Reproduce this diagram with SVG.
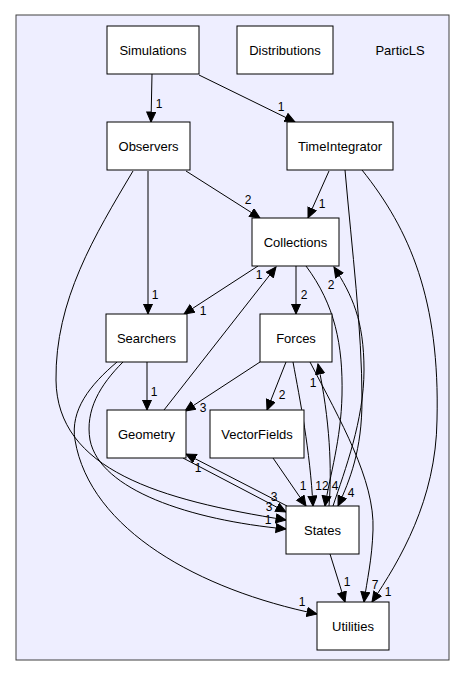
<svg xmlns="http://www.w3.org/2000/svg" width="465" height="677" viewBox="0 0 465 677">
<style>
.node rect{fill:#ffffff;stroke:#000000;stroke-width:1}
.node text{font-family:"Liberation Sans",Arial,sans-serif;font-size:13px;text-anchor:middle;fill:#000}
.edges path{fill:none;stroke:#000;stroke-width:1;marker-end:url(#ah)}
.lbl{font-family:"Liberation Sans",Arial,sans-serif;font-size:12px;text-anchor:middle;fill:#000}
</style>
<defs>
<marker id="ah" markerWidth="12" markerHeight="11" refX="10.5" refY="5" orient="auto" markerUnits="userSpaceOnUse">
<path d="M0.5,0.5 L10.5,5 L0.5,9.5 z" fill="#000" stroke="#000" stroke-width="1"/>
</marker>
</defs>
<rect width="465" height="677" fill="#ffffff"/>
<g id="cluster_ParticLS">
<rect x="16" y="15" width="433" height="645" fill="#eeeeff" stroke="#404040" stroke-width="1"/>
<text x="400" y="55" style="font-family:'Liberation Sans',Arial,sans-serif;font-size:13px;text-anchor:middle">ParticLS</text>
</g>
<g class="edges" id="edges">
<path d="M152,74 L151,122"/>
<path d="M199,75 L295,122"/>
<path d="M186,171 L260,218"/>
<path d="M329,171 L308,218"/>
<path d="M148,171 L148,314"/>
<path d="M258,266 L184,314"/>
<path d="M296,266 L296,314"/>
<path d="M164,410 L276,267"/>
<path d="M147,362 L147,410"/>
<path d="M260,362 L185,411"/>
<path d="M286,362 L267,410"/>
<path d="M273,458 L306,506"/>
<path d="M293,362 C300,400 310,450 313,506"/>
<path d="M306,266 C335,305 343,345 342,395 C341,440 330,475 325,506"/>
<path d="M345,170 C352,250 362,330 362,400 C362,450 350,480 338,506"/>
<path d="M333,506 C345,470 364,420 364,370 C364,320 352,295 334,267"/>
<path d="M329,506 C332,470 330,420 318,364"/>
<path d="M183,458 L286,512"/>
<path d="M287,506 L186,454"/>
<path d="M133,171 C95,235 55,300 56,380 C57,470 160,500 286,520"/>
<path d="M123,362 C100,385 85,410 90,440 C100,490 190,520 286,529"/>
<path d="M117,362 C90,385 70,410 75,440 C90,530 200,590 317,614"/>
<path d="M330,554 L345,602"/>
<path d="M310,362 C340,420 375,480 373,530 C372,560 367,580 364,602"/>
<path d="M362,170 C410,230 440,300 437,420 C436,500 400,560 372,602"/>
</g>
<g id="edge_labels">
<text class="lbl" x="159" y="108">1</text>
<text class="lbl" x="281" y="111">1</text>
<text class="lbl" x="248" y="204">2</text>
<text class="lbl" x="322" y="208">1</text>
<text class="lbl" x="155" y="299">1</text>
<text class="lbl" x="203" y="315">1</text>
<text class="lbl" x="304" y="299">2</text>
<text class="lbl" x="259" y="279">1</text>
<text class="lbl" x="154" y="396">1</text>
<text class="lbl" x="203" y="412">3</text>
<text class="lbl" x="282" y="399">2</text>
<text class="lbl" x="303" y="490">1</text>
<text class="lbl" x="322" y="490">12</text>
<text class="lbl" x="335" y="490">4</text>
<text class="lbl" x="351" y="497">4</text>
<text class="lbl" x="331" y="289">2</text>
<text class="lbl" x="313" y="387">1</text>
<text class="lbl" x="274" y="501">3</text>
<text class="lbl" x="198" y="472">1</text>
<text class="lbl" x="269" y="511">3</text>
<text class="lbl" x="268" y="524">1</text>
<text class="lbl" x="302" y="606">1</text>
<text class="lbl" x="347" y="586">1</text>
<text class="lbl" x="375" y="589">7</text>
<text class="lbl" x="388" y="596">1</text>
</g>
<g class="node" id="node_Simulations"><rect x="107" y="26" width="92" height="48"/><text x="153" y="55">Simulations</text></g>
<g class="node" id="node_Distributions"><rect x="237" y="26" width="96" height="48"/><text x="285" y="55">Distributions</text></g>
<g class="node" id="node_Observers"><rect x="107" y="122" width="83" height="48"/><text x="148.5" y="151">Observers</text></g>
<g class="node" id="node_TimeIntegrator"><rect x="287" y="122" width="106" height="48"/><text x="340" y="151">TimeIntegrator</text></g>
<g class="node" id="node_Collections"><rect x="252" y="218" width="87" height="48"/><text x="295.5" y="247">Collections</text></g>
<g class="node" id="node_Searchers"><rect x="106" y="314" width="81" height="48"/><text x="146.5" y="343">Searchers</text></g>
<g class="node" id="node_Forces"><rect x="260" y="314" width="72" height="48"/><text x="296" y="343">Forces</text></g>
<g class="node" id="node_Geometry"><rect x="107" y="410" width="79" height="48"/><text x="146.5" y="439">Geometry</text></g>
<g class="node" id="node_VectorFields"><rect x="210" y="410" width="94" height="48"/><text x="257" y="439">VectorFields</text></g>
<g class="node" id="node_States"><rect x="286" y="506" width="73" height="48"/><text x="322.5" y="535">States</text></g>
<g class="node" id="node_Utilities"><rect x="317" y="602" width="72" height="48"/><text x="353" y="631">Utilities</text></g>
</svg>
